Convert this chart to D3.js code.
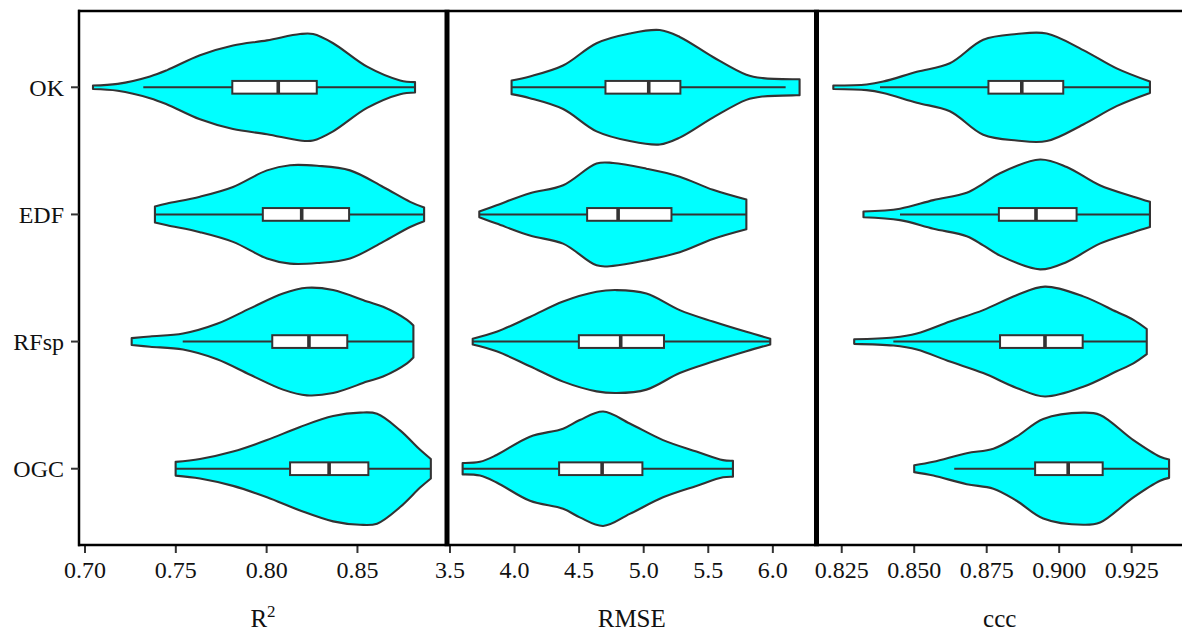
<!DOCTYPE html>
<html>
<head>
<meta charset="utf-8">
<script src="https://cdn.jsdelivr.net/npm/d3@7"></script>
<style>
  html, body { margin: 0; padding: 0; background: #fff; }
  svg { display: block; }
  text { font-family: "Liberation Serif", "Times New Roman", serif; fill: #111; }
</style>
</head>
<body>
<svg id="chart" width="1182" height="633"></svg>
<script>
// ---------------- data ----------------
const categories = ["OK", "EDF", "RFsp", "OGC"];
const metricNames = ["R2", "RMSE", "ccc"];

const r2Ticks = [0.70, 0.75, 0.80, 0.85];
const rmseTicks = [3.5, 4.0, 4.5, 5.0, 5.5, 6.0];
const cccTicks = [0.825, 0.850, 0.875, 0.900, 0.925];

// box statistics per category: [lower whisker, Q1, median, Q3, upper whisker]
const r2Box = [
  [0.7321, 0.7811, 0.8064, 0.8276, 0.8817],
  [0.7385, 0.7979, 0.8193, 0.8454, 0.8867],
  [0.7538, 0.8031, 0.8233, 0.8444, 0.8808],
  [0.7499, 0.8129, 0.8344, 0.8560, 0.8904]
];
const rmseBox = [
  [3.977, 4.704, 5.039, 5.284, 6.099],
  [3.727, 4.562, 4.802, 5.215, 5.795],
  [3.676, 4.498, 4.822, 5.157, 5.980],
  [3.598, 4.345, 4.678, 4.990, 5.691]
];
const cccBox = [
  [0.8382, 0.8756, 0.8871, 0.9014, 0.9313],
  [0.8451, 0.8792, 0.8920, 0.9060, 0.9313],
  [0.8428, 0.8796, 0.8951, 0.9081, 0.9302],
  [0.8638, 0.8917, 0.9031, 0.9150, 0.9379]
];

// violin outlines: values and relative density (1 = widest violin)
const r2Values = [
  [0.7044, 0.7180, 0.7358, 0.7452, 0.7633, 0.7815, 0.8002, 0.8184, 0.8256, 0.8366, 0.8553, 0.8735, 0.8817],
  [0.7385, 0.7452, 0.7633, 0.7815, 0.8002, 0.8129, 0.8278, 0.8459, 0.8641, 0.8790, 0.8867],
  [0.7257, 0.7358, 0.7540, 0.7727, 0.7909, 0.8090, 0.8222, 0.8366, 0.8553, 0.8641, 0.8773, 0.8808],
  [0.7499, 0.7633, 0.7815, 0.8002, 0.8184, 0.8366, 0.8514, 0.8608, 0.8735, 0.8845, 0.8904]
];
const r2Density = [
  [0.03, 0.06, 0.19, 0.30, 0.56, 0.73, 0.82, 0.93, 0.93, 0.77, 0.36, 0.12, 0.09],
  [0.14, 0.19, 0.31, 0.48, 0.77, 0.86, 0.85, 0.77, 0.48, 0.22, 0.12],
  [0.06, 0.09, 0.14, 0.31, 0.58, 0.84, 0.94, 0.90, 0.70, 0.61, 0.38, 0.28],
  [0.12, 0.17, 0.30, 0.50, 0.73, 0.92, 0.98, 0.96, 0.67, 0.33, 0.17]
];
const rmseValues = [
  [3.977, 4.119, 4.376, 4.635, 4.892, 5.124, 5.279, 5.536, 5.795, 5.923, 6.181, 6.207],
  [3.727, 3.861, 4.119, 4.376, 4.635, 4.763, 5.021, 5.279, 5.536, 5.795],
  [3.676, 3.861, 4.119, 4.376, 4.635, 4.789, 5.021, 5.279, 5.536, 5.795, 5.980],
  [3.598, 3.732, 3.861, 4.119, 4.376, 4.505, 4.686, 4.892, 5.150, 5.408, 5.614, 5.691]
];
const rmseDensity = [
  [0.12, 0.19, 0.38, 0.77, 0.94, 1.00, 0.88, 0.53, 0.22, 0.16, 0.14, 0.14],
  [0.05, 0.16, 0.37, 0.51, 0.89, 0.90, 0.80, 0.66, 0.43, 0.26],
  [0.05, 0.17, 0.43, 0.70, 0.87, 0.90, 0.84, 0.55, 0.35, 0.17, 0.05],
  [0.10, 0.12, 0.24, 0.56, 0.70, 0.85, 1.00, 0.79, 0.50, 0.30, 0.15, 0.14]
];
const cccValues = [
  [0.8221, 0.8336, 0.8393, 0.8509, 0.8623, 0.8738, 0.8853, 0.8957, 0.9083, 0.9198, 0.9313],
  [0.8325, 0.8451, 0.8566, 0.8681, 0.8738, 0.8796, 0.8934, 0.9026, 0.9140, 0.9256, 0.9313],
  [0.8293, 0.8428, 0.8509, 0.8623, 0.8738, 0.8853, 0.8951, 0.9083, 0.9198, 0.9256, 0.9302],
  [0.8500, 0.8566, 0.8681, 0.8773, 0.8853, 0.8945, 0.9083, 0.9141, 0.9256, 0.9348, 0.9379]
];
const cccDensity = [
  [0.03, 0.05, 0.10, 0.27, 0.42, 0.83, 0.93, 0.94, 0.65, 0.33, 0.10],
  [0.05, 0.10, 0.25, 0.38, 0.54, 0.72, 0.96, 0.83, 0.51, 0.31, 0.22],
  [0.04, 0.07, 0.14, 0.35, 0.55, 0.81, 0.96, 0.79, 0.52, 0.38, 0.22],
  [0.06, 0.12, 0.27, 0.35, 0.56, 0.87, 0.98, 0.94, 0.50, 0.21, 0.16]
];

// ---------------- layout ----------------
const svg = d3.select("#chart");
const topY = 11, bottomY = 545;
const panels = [
  { name: "R2", ticks: r2Ticks, fmt: d3.format(".2f"), domain: [0.6967, 0.8993], range: [79, 447],
    box: r2Box, values: r2Values, density: r2Density },
  { name: "RMSE", ticks: rmseTicks, fmt: d3.format(".1f"), domain: [3.477, 6.338], range: [447, 816.5],
    box: rmseBox, values: rmseValues, density: rmseDensity },
  { name: "ccc", ticks: cccTicks, fmt: d3.format(".3f"), domain: [0.8163, 0.9427], range: [816.5, 1183],
    box: cccBox, values: cccValues, density: cccDensity }
];

const y = d3.scalePoint().domain(categories).range([topY, bottomY]).padding(0.6);
const step = y.step();
const maxHalf = 0.45 * step;
const boxHalf = 0.05 * step;

const ink = "#333333";

panels.forEach((p, pi) => {
  const x = d3.scaleLinear().domain(p.domain).range(p.range);
  const g = svg.append("g");

  categories.forEach((c, ci) => {
    const cy = y(c);
    const pts = p.values[ci].map((v, i) => ({ v, d: p.density[ci][i] }));
    const area = d3.area()
      .x(d => x(d.v))
      .y0(d => cy - d.d * maxHalf)
      .y1(d => cy + d.d * maxHalf)
      .curve(d3.curveCatmullRom.alpha(0.5));
    g.append("path")
      .attr("d", area(pts))
      .attr("fill", "#00ffff")
      .attr("stroke", ink)
      .attr("stroke-width", 2.1)
      .attr("stroke-linejoin", "round");

    const [lo, q1, med, q3, hi] = p.box[ci];
    g.append("line")
      .attr("x1", x(lo)).attr("x2", x(hi))
      .attr("y1", cy).attr("y2", cy)
      .attr("stroke", ink).attr("stroke-width", 2);
    g.append("rect")
      .attr("x", x(q1)).attr("y", cy - boxHalf)
      .attr("width", x(q3) - x(q1)).attr("height", 2 * boxHalf)
      .attr("fill", "#ffffff").attr("stroke", ink).attr("stroke-width", 2);
    g.append("line")
      .attr("x1", x(med)).attr("x2", x(med))
      .attr("y1", cy - boxHalf).attr("y2", cy + boxHalf)
      .attr("stroke", ink).attr("stroke-width", 3.6);
  });

  // x axis ticks & labels
  const ax = svg.append("g");
  p.ticks.forEach(t => {
    ax.append("line")
      .attr("x1", x(t)).attr("x2", x(t))
      .attr("y1", bottomY).attr("y2", bottomY + 8)
      .attr("stroke", ink).attr("stroke-width", 2);
    ax.append("text")
      .attr("x", x(t)).attr("y", 578)
      .attr("text-anchor", "middle")
      .attr("font-size", 24)
      .text(p.fmt(t));
  });

  // axis title
  const cx = (p.range[0] + p.range[1]) / 2;
  const title = svg.append("text")
    .attr("x", cx).attr("y", 627)
    .attr("text-anchor", "middle")
    .attr("font-size", 25);
  if (p.name === "R2") {
    title.append("tspan").text("R");
    title.append("tspan").attr("dy", -10).attr("font-size", 17).text("2");
  } else {
    title.text(p.name);
  }
});

// frame lines
svg.append("line").attr("x1", 78).attr("x2", 1182).attr("y1", topY).attr("y2", topY)
  .attr("stroke", "#000").attr("stroke-width", 2.5);
svg.append("line").attr("x1", 78).attr("x2", 1182).attr("y1", bottomY).attr("y2", bottomY)
  .attr("stroke", "#000").attr("stroke-width", 2.5);
svg.append("line").attr("x1", 79).attr("x2", 79).attr("y1", topY - 1.2).attr("y2", bottomY + 1.2)
  .attr("stroke", "#000").attr("stroke-width", 2.5);
[447, 816.5].forEach(px => {
  svg.append("line").attr("x1", px).attr("x2", px).attr("y1", topY - 1.2).attr("y2", bottomY + 1.2)
    .attr("stroke", "#000").attr("stroke-width", 5);
});

// y axis ticks and labels
categories.forEach(c => {
  svg.append("line").attr("x1", 71).attr("x2", 79).attr("y1", y(c)).attr("y2", y(c))
    .attr("stroke", ink).attr("stroke-width", 2);
  svg.append("text").attr("x", 64).attr("y", y(c) + 8.5)
    .attr("text-anchor", "end").attr("font-size", 24).text(c);
});
</script>
</body>
</html>
